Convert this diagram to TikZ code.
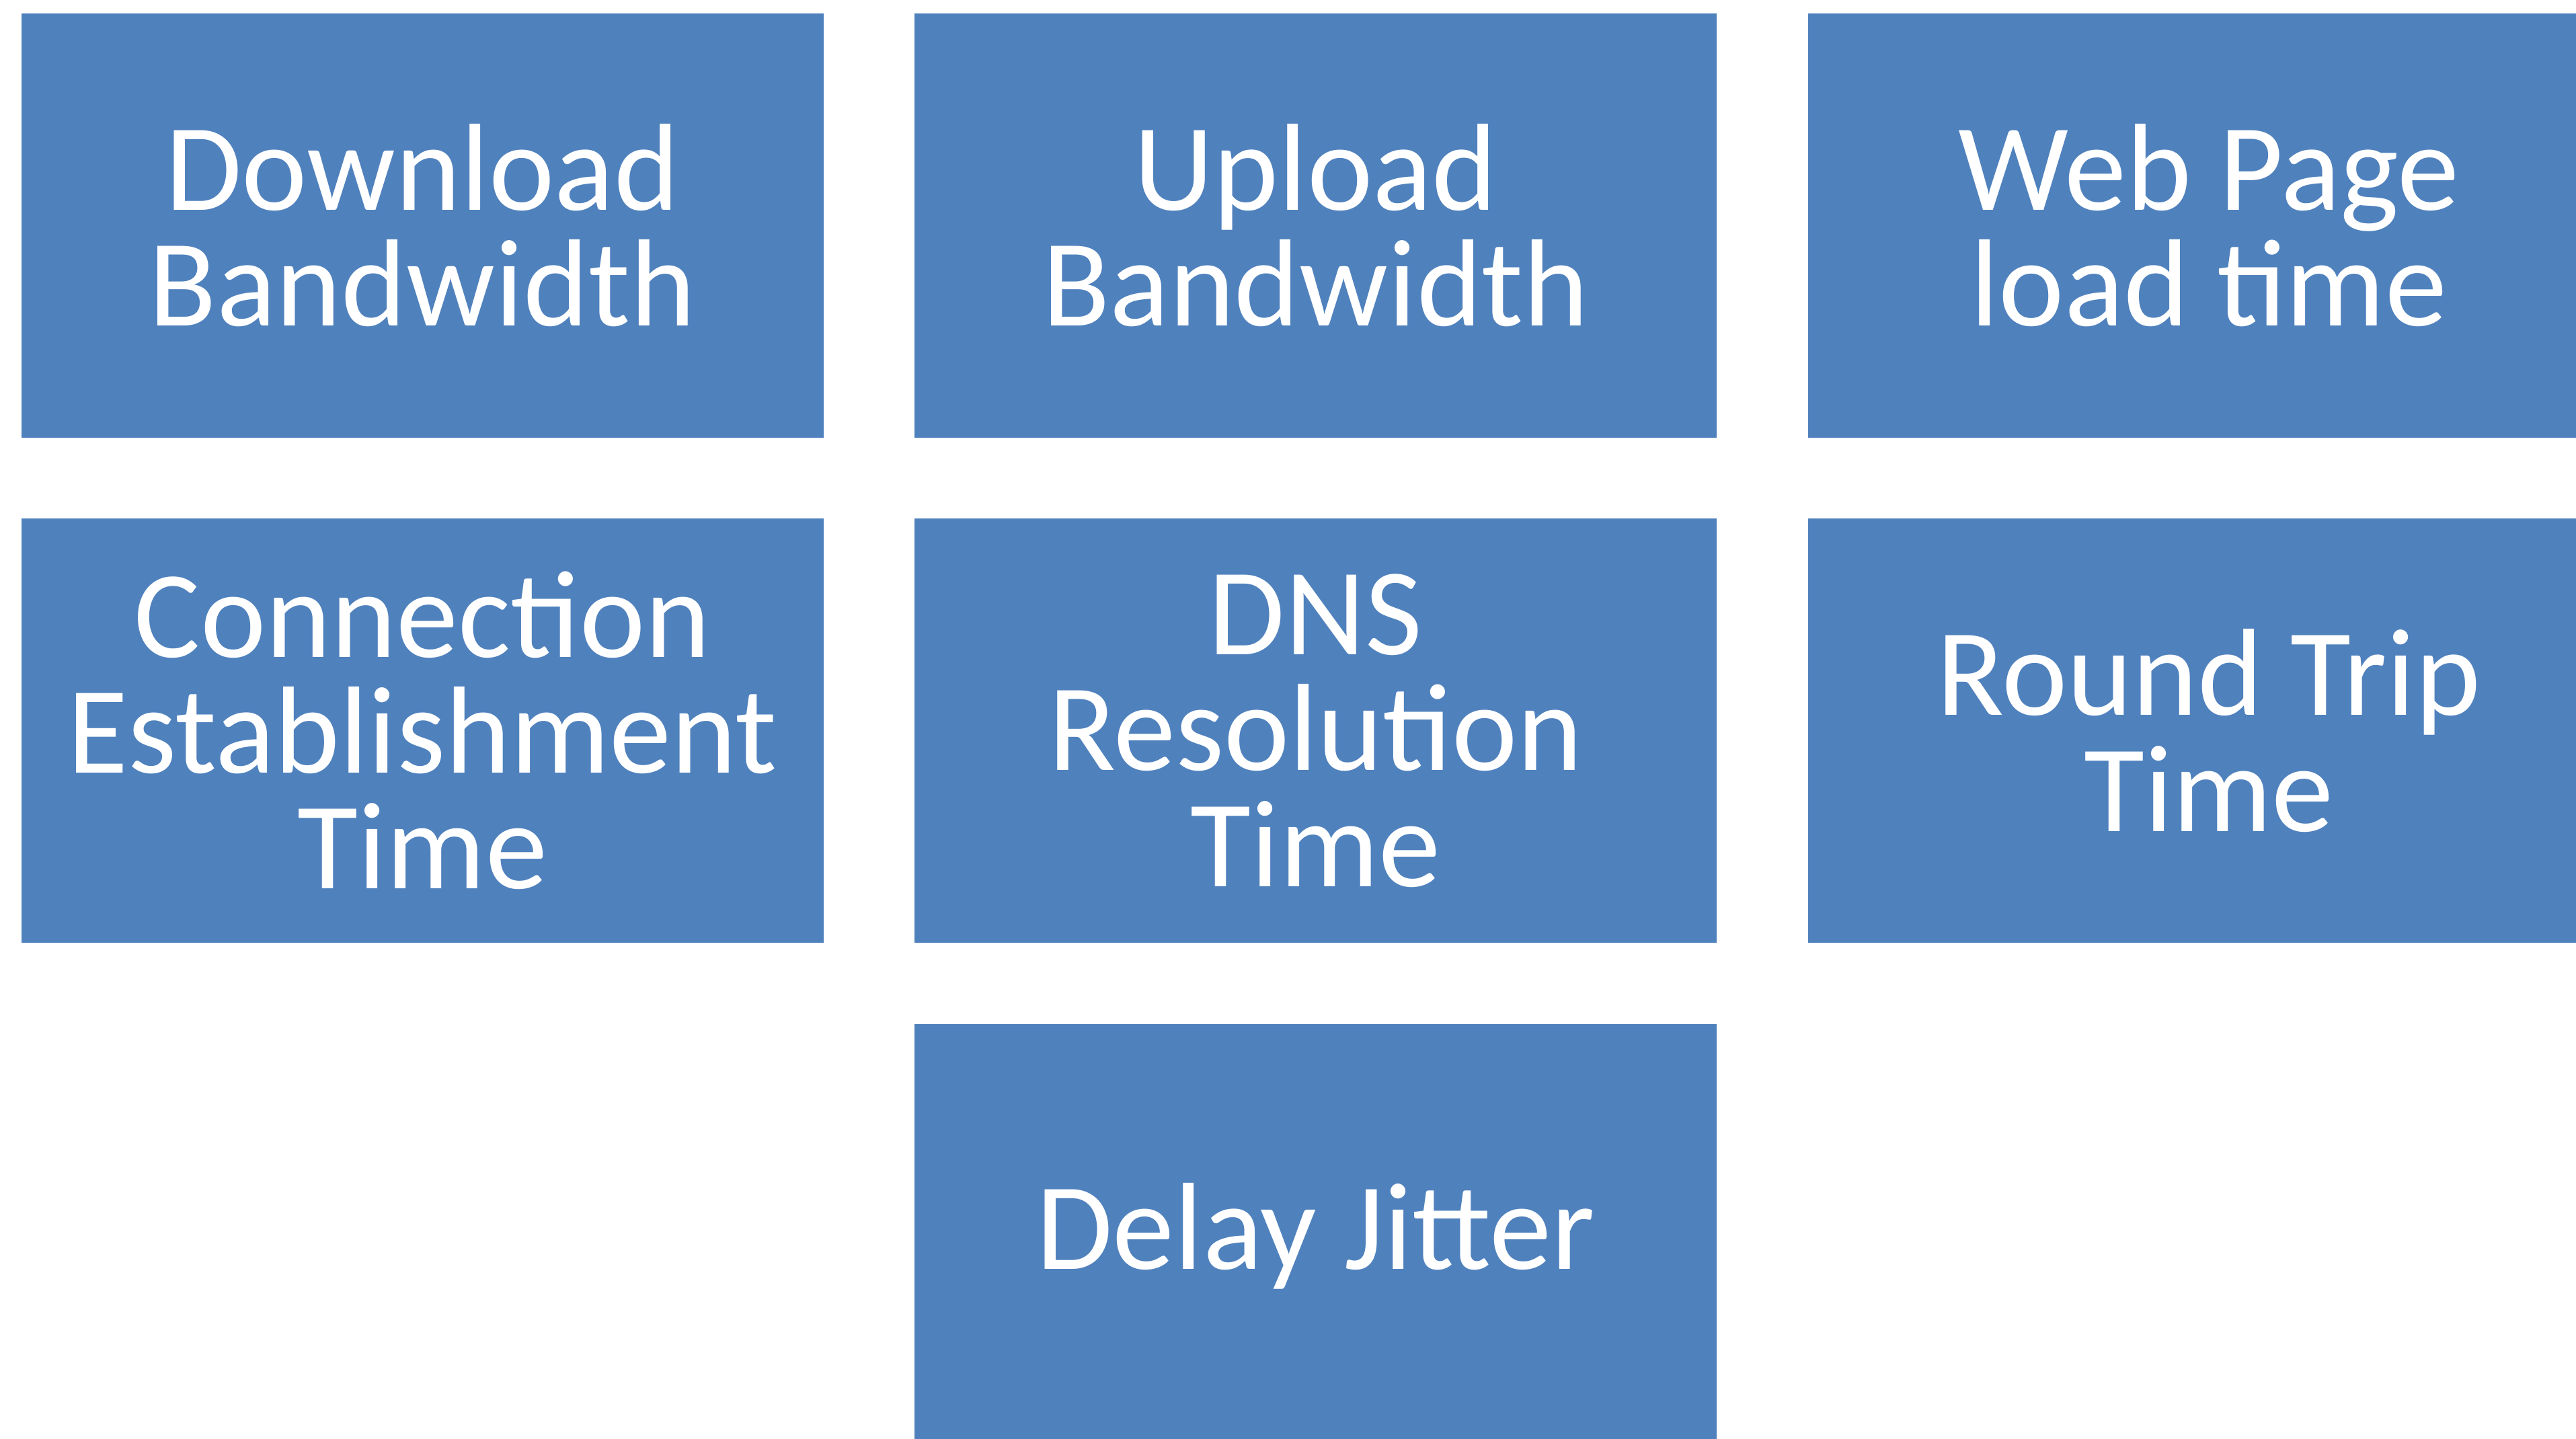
\documentclass[tikz,border=0pt]{standalone}
\usepackage{fontspec}
\setmainfont{Carlito}
\usepackage{xcolor}
\usetikzlibrary{positioning}
\definecolor{boxblue}{HTML}{4F81BD}

\begin{document}
\begin{tikzpicture}[
    metric/.style={fill=boxblue, draw=none, text=white, align=center,
        minimum width=11.93cm, minimum height=6.31cm, inner sep=0pt,
        font=\fontsize{52.5}{49}\selectfont},
    node distance=1.19cm and 1.34cm
]
        % Page size
        \useasboundingbox (0,0) rectangle (38.31,-21.40);
        \clip (0,0) rectangle (38.31,-21.40);

        % First row
        \node[metric, anchor=north west] (down) at (0.31,-0.19) {Download\\Bandwidth};
        \node[metric, right=of down] (up) {Upload\\Bandwidth};
        \node[metric, right=of up] (web) {Web Page\\load time};

        % Second row
        \node[metric, below=of down] (conn) {Connection\\Establishment\\Time};
        \node[metric, below=of up] (dns) {DNS\\Resolution\\Time};
        \node[metric, below=of web] (rtt) {Round Trip\\Time};

        % Third row
        \node[metric, below=of dns] (jitter) {Delay Jitter};

    \end{tikzpicture}
\end{document}
